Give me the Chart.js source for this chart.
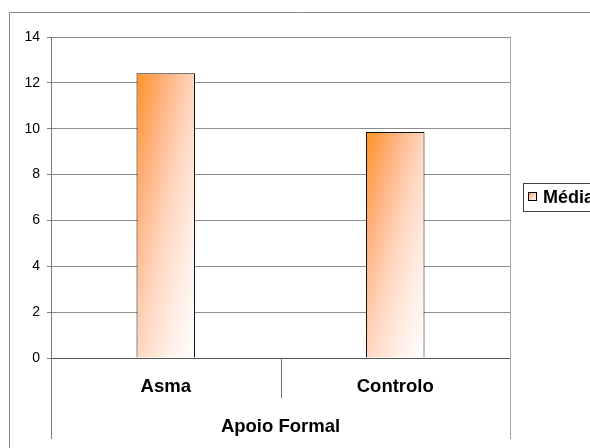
<!DOCTYPE html>
<html>
<head>
<meta charset="utf-8">
<script src="https://cdn.jsdelivr.net/npm/chart.js@4/dist/chart.umd.min.js"></script>
<style>
  html, body { margin: 0; padding: 0; background: #fff; }
  #wrap { width: 590px; height: 448px; }
</style>
</head>
<body>
<div id="wrap"><canvas id="c" width="590" height="448"></canvas></div>
<script>
// Data
const categories = ['Asma', 'Controlo'];
const groupLabel = 'Apoio Formal';
const seriesName = 'Média';
const mediaValues = [12.42, 9.86];
const yTicks = [0, 2, 4, 6, 8, 10, 12, 14];

const FONT = "'Liberation Sans', Arial, sans-serif";
const BAR_PCT = 0.255;

// Diagonal gradient in the bar's own box: colour depends on (u + v) / 2,
// where u, v are the horizontal and vertical fractions inside the rectangle.
function boxGradient(ctx2d, x0, y0, w, h) {
  const t = 2 / (1 / (w * w) + 1 / (h * h));
  const g = ctx2d.createLinearGradient(x0, y0, x0 + t / w, y0 + t / h);
  g.addColorStop(0, '#FF9226');
  g.addColorStop(0.25, '#FFB07A');
  g.addColorStop(0.5, '#FFD5BE');
  g.addColorStop(0.75, '#FFEDE3');
  g.addColorStop(1, '#FFFFFF');
  return g;
}

function barFill(context) {
  const chart = context.chart;
  const xs = chart.scales.x, ys = chart.scales.y;
  if (context.type !== 'data' || !xs || !ys || !chart.chartArea) return '#FF9933';
  const i = context.dataIndex;
  const v = context.dataset.data[i];
  const catW = (xs.right - xs.left) / categories.length;
  const w = catW * BAR_PCT;
  const cx = xs.getPixelForValue(i);
  const top = ys.getPixelForValue(v);
  const bottom = ys.getPixelForValue(0);
  return boxGradient(chart.ctx, cx - w / 2, top, w, bottom - top);
}

// Frame, plot-area edges, category separators and the series key
const framePlugin = {
  id: 'frame',
  beforeDraw(chart) {
    const ctx = chart.ctx;
    ctx.save();
    ctx.fillStyle = '#fff';
    ctx.fillRect(0, 0, chart.width, chart.height);
    ctx.strokeStyle = '#8A8A8A';
    ctx.lineWidth = 1;
    ctx.beginPath();
    ctx.moveTo(9.5, chart.height + 2);
    ctx.lineTo(9.5, 12.5);
    ctx.lineTo(chart.width + 2, 12.5);
    ctx.stroke();
    ctx.restore();
  },
  afterDraw(chart) {
    const ctx = chart.ctx;
    const a = chart.chartArea;
    const ys = chart.scales.y;
    const xs = chart.scales.x;
    const y0 = Math.round(ys.getPixelForValue(0));
    const catW = (xs.right - xs.left) / categories.length;
    ctx.save();
    ctx.lineWidth = 1;
    // right edge of the plot area, continued under the category labels
    ctx.strokeStyle = '#A6A6A6';
    ctx.beginPath();
    ctx.moveTo(Math.round(a.right) + 0.5, a.top);
    ctx.lineTo(Math.round(a.right) + 0.5, y0 + 81);
    ctx.stroke();
    // value axis continued downward
    ctx.strokeStyle = '#7A7A7A';
    ctx.beginPath();
    ctx.moveTo(Math.round(a.left) + 0.5, y0);
    ctx.lineTo(Math.round(a.left) + 0.5, y0 + 81);
    ctx.stroke();
    // separators between categories
    ctx.strokeStyle = '#6A6A6A';
    for (let k = 1; k < categories.length; k++) {
      const sx = Math.round(xs.left + catW * k) + 0.5;
      ctx.beginPath();
      ctx.moveTo(sx, y0);
      ctx.lineTo(sx, y0 + 40);
      ctx.stroke();
    }
    // key
    ctx.fillStyle = '#fff';
    ctx.fillRect(523, 183, 80, 28);
    ctx.strokeStyle = '#444';
    ctx.strokeRect(523.5, 183.5, 80, 28);
    ctx.fillStyle = boxGradient(ctx, 528, 192, 9, 9);
    ctx.fillRect(528, 192, 9, 9);
    ctx.strokeStyle = '#000';
    ctx.strokeRect(528.5, 192.5, 8, 8);
    ctx.fillStyle = '#000';
    ctx.font = 'bold 18px ' + FONT;
    ctx.textBaseline = 'middle';
    ctx.textAlign = 'left';
    ctx.fillText(seriesName, 543, 198);
    ctx.restore();
  }
};

new Chart(document.getElementById('c'), {
  type: 'bar',
  data: {
    labels: categories,
    datasets: [{
      label: seriesName,
      data: mediaValues,
      backgroundColor: barFill,
      borderColor: '#111',
      borderWidth: 1,
      borderSkipped: 'bottom',
      categoryPercentage: 1,
      barPercentage: BAR_PCT
    }]
  },
  options: {
    responsive: false,
    animation: false,
    devicePixelRatio: 1,
    layout: { padding: { left: 0, top: 37, right: 80, bottom: 0 } },
    plugins: {
      legend: { display: false },
      tooltip: { enabled: false }
    },
    scales: {
      y: {
        min: 0,
        max: 14,
        afterBuildTicks: s => { s.ticks = yTicks.map(v => ({ value: v })); },
        afterFit: s => { s.width = 51; },
        grid: {
          color: c => (c.tick && c.tick.value === 0 ? '#555' : '#8C8C8C'),
          tickColor: '#7A7A7A',
          tickLength: 4,
          drawTicks: true
        },
        border: { display: true, color: '#7A7A7A' },
        ticks: {
          color: '#000',
          padding: 7,
          font: { family: FONT, size: 14 }
        }
      },
      x: {
        offset: true,
        afterFit: s => { s.height = 90; },
        grid: { display: false, drawTicks: false },
        border: { display: false },
        ticks: {
          color: '#000',
          padding: 18,
          font: { family: FONT, size: 18.5, weight: 'bold' }
        },
        title: {
          display: true,
          text: groupLabel,
          color: '#000',
          font: { family: FONT, size: 18.5, weight: 'bold' },
          padding: { top: 0, bottom: 10 }
        }
      }
    }
  },
  plugins: [framePlugin]
});
</script>
</body>
</html>
